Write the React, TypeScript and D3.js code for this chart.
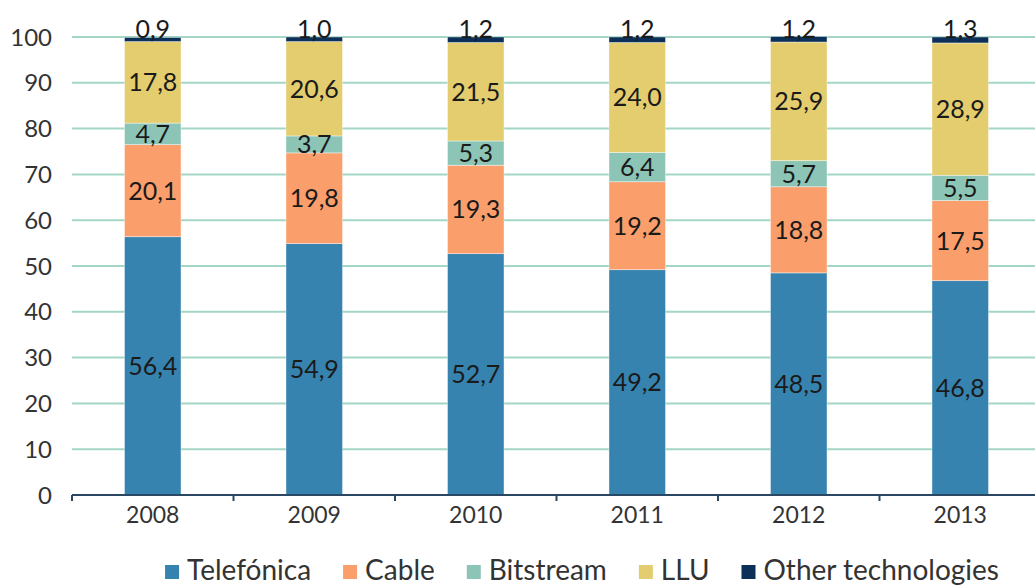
import React, { useEffect, useRef } from "react";
import * as d3 from "d3";

const years = ["2008", "2009", "2010", "2011", "2012", "2013"];
const telefonica = [56.4, 54.9, 52.7, 49.2, 48.5, 46.8];
const cable = [20.1, 19.8, 19.3, 19.2, 18.8, 17.5];
const bitstream = [4.7, 3.7, 5.3, 6.4, 5.7, 5.5];
const llu = [17.8, 20.6, 21.5, 24.0, 25.9, 28.9];
const other = [0.9, 1.0, 1.2, 1.2, 1.2, 1.3];
const seriesNames = ["Telefónica", "Cable", "Bitstream", "LLU", "Other technologies"];
const colors = ["#3783b0", "#fa9e6b", "#8cc5b6", "#e3cd6e", "#0c3057"];
const yTicks = [0, 10, 20, 30, 40, 50, 60, 70, 80, 90, 100];

const W = 1035;
const H = 585;
const FONT = "Lato, 'Open Sans', sans-serif";

const App: React.FC = () => {
  const svgRef = useRef<SVGSVGElement>(null);

  useEffect(() => {
    const svg = d3.select(svgRef.current);
    svg.selectAll("*").remove();

    const table = years.map((y, i) => ({
      year: y,
      s0: telefonica[i],
      s1: cable[i],
      s2: bitstream[i],
      s3: llu[i],
      s4: other[i],
    }));
    const keys = ["s0", "s1", "s2", "s3", "s4"];
    // @ts-ignore
    const stacked = d3.stack().keys(keys)(table);

    const x = d3
      .scaleBand()
      .domain(years)
      .range([72, 1041])
      .paddingInner(0.65)
      .paddingOuter(0.325);
    const y = d3.scaleLinear().domain([0, 100]).range([495, 37]);

    // grid
    svg
      .append("g")
      .selectAll("line")
      .data(yTicks.filter((t) => t > 0))
      .join("line")
      .attr("x1", 72)
      .attr("x2", W)
      .attr("y1", (d) => y(d))
      .attr("y2", (d) => y(d))
      .attr("stroke", "#a3d6c5")
      .attr("stroke-width", 2);

    // y labels
    svg
      .append("g")
      .selectAll("text")
      .data(yTicks)
      .join("text")
      .attr("x", 52)
      .attr("y", (d) => y(d))
      .attr("dy", "0.36em")
      .attr("text-anchor", "end")
      .attr("font-family", FONT)
      .attr("font-size", 24)
      .attr("fill", "#333")
      .text((d) => d);

    // bars
    svg
      .append("g")
      .selectAll("g")
      .data(stacked)
      .join("g")
      .attr("fill", (d, i) => colors[i])
      .selectAll("rect")
      .data((d) => d)
      .join("rect")
      // @ts-ignore
      .attr("x", (d) => x(d.data.year))
      .attr("y", (d) => y(d[1]))
      .attr("width", x.bandwidth())
      .attr("height", (d) => y(d[0]) - y(d[1]))
      .attr("stroke", "rgba(255,255,255,0.5)")
      .attr("stroke-width", 0.8);

    // labels
    const fmt = (v: number) => v.toFixed(1).replace(".", ",");
    stacked.forEach((layer: any, li: number) => {
      svg
        .append("g")
        .selectAll("text")
        .data(layer)
        .join("text")
        // @ts-ignore
        .attr("x", (d) => x(d.data.year) + x.bandwidth() / 2)
        .attr("y", (d: any) => (li === 4 ? y(d[1]) + 1 : (y(d[0]) + y(d[1])) / 2))
        .attr("dy", li === 4 ? "0" : "0.36em")
        .attr("text-anchor", "middle")
        .attr("font-family", FONT)
        .attr("font-size", 25)
        .attr("fill", "#1a1a1a")
        .text((d: any) => fmt(d[1] - d[0]));
    });

    // x axis
    const axisColor = "#2a4863";
    const ax = svg.append("g");
    ax.append("line")
      .attr("x1", 72)
      .attr("x2", W)
      .attr("y1", 495)
      .attr("y2", 495)
      .attr("stroke", axisColor)
      .attr("stroke-width", 2);
    ax.selectAll("line.tick")
      .data(years)
      .join("line")
      .attr("class", "tick")
      // @ts-ignore
      .attr("x1", (d) => x(d) - (x.step() - x.bandwidth()) / 2)
      // @ts-ignore
      .attr("x2", (d) => x(d) - (x.step() - x.bandwidth()) / 2)
      .attr("y1", 495)
      .attr("y2", 501)
      .attr("stroke", axisColor)
      .attr("stroke-width", 2);
    ax.selectAll("text")
      .data(years)
      .join("text")
      // @ts-ignore
      .attr("x", (d) => x(d) + x.bandwidth() / 2)
      .attr("y", 523)
      .attr("text-anchor", "middle")
      .attr("font-family", FONT)
      .attr("font-size", 23)
      .attr("fill", "#333")
      .text((d) => d);

    // legend
    const leg = svg.append("g");
    const items = leg
      .selectAll("g")
      .data(seriesNames)
      .join("g");
    items
      .append("rect")
      .attr("width", 14)
      .attr("height", 14)
      .attr("y", 565)
      .attr("fill", (d, i) => colors[i]);
    items
      .append("text")
      .attr("x", 22)
      .attr("y", 580)
      .attr("font-family", FONT)
      .attr("font-size", 28)
      .attr("fill", "#333")
      .text((d) => d);
    const gap = 32;
    const widths: number[] = [];
    items.each(function () {
      const t = d3.select(this).select("text").node() as SVGTextElement;
      widths.push(22 + t.getComputedTextLength());
    });
    const total = d3.sum(widths) + gap * (widths.length - 1);
    let cx = 582 - total / 2;
    items.attr("transform", (d, i) => {
      const pos = cx;
      cx += widths[i] + gap;
      return `translate(${pos},0)`;
    });
  }, []);

  return (
    <svg
      ref={svgRef}
      width={W}
      height={H}
      style={{ display: "block", position: "absolute", left: 0, top: 0 }}
    />
  );
};

export default App;
